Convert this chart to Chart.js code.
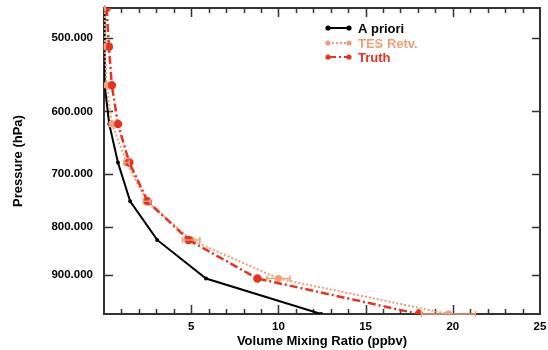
<!DOCTYPE html>
<html>
<head>
<meta charset="utf-8">
<script src="https://cdn.jsdelivr.net/npm/chart.js@4.4.0/dist/chart.umd.min.js"></script>
<style>
  html, body { margin: 0; padding: 0; background: #fff; }
  #wrap { width: 548px; height: 350px; }
</style>
</head>
<body>
<div id="wrap"><canvas id="chart"></canvas></div>
<script>
// pressure levels (hPa), top of plot to surface
const pressures = [464.2, 510.9, 562.3, 619.0, 681.3, 749.9, 825.4, 908.5, 992];
// volume mixing ratio (ppbv)
const aprioriVals = [0.02, 0.03, 0.05, 0.3, 0.8, 1.5, 3.05, 5.85, 12.45];
const tesVals = [0.05, 0.05, 0.15, 0.45, 1.3, 2.45, 5.0, 10.0, 19.75];
const tesErr = [0.02, 0.03, 0.05, 0.1, 0.15, 0.2, 0.5, 0.66, 1.55];
const truthVals = [0.15, 0.28, 0.45, 0.8, 1.45, 2.5, 4.85, 8.8, 18.05];
const pressureTicks = [500, 600, 700, 800, 900];
const seriesNames = ['A priori', 'TES Retv.', 'Truth'];

const BLACK = '#000000';
const ORANGE = '#f29e7a';
const RED = '#e8321e';
const FONT = "'Liberation Sans', Arial, sans-serif";

function toPoints(vals) {
    return vals.map((v, i) => ({ x: v, y: pressures[i] }));
}

// box and inward tick marks
const framePlugin = {
    id: 'frame',
    beforeDatasetsDraw(chart) {
        const { ctx, chartArea: a, scales } = chart;
        const xs = scales.x, ys = scales.y;
        ctx.save();
        ctx.strokeStyle = '#333';
        ctx.lineWidth = 2;
        ctx.strokeRect(a.left, a.top, a.right - a.left, a.bottom - a.top);
        ctx.lineWidth = 1.5;
        ctx.beginPath();
        for (let v = 1; v < 25; v++) {
            const px = Math.round(xs.getPixelForValue(v)) + 0.5;
            const len = v % 5 === 0 ? 9 : 5;
            ctx.moveTo(px, a.bottom); ctx.lineTo(px, a.bottom - len);
            ctx.moveTo(px, a.top); ctx.lineTo(px, a.top + len);
        }
        pressureTicks.forEach((p) => {
            const py = Math.round(ys.getPixelForValue(p)) + 0.5;
            ctx.moveTo(a.left, py); ctx.lineTo(a.left + 9, py);
            ctx.moveTo(a.right, py); ctx.lineTo(a.right - 8, py);
        });
        ctx.stroke();
        ctx.restore();
    },
};

// horizontal error bars on the retrieval
const errorBarPlugin = {
    id: 'errorBars',
    afterDatasetsDraw(chart) {
        const { ctx, scales } = chart;
        const xs = scales.x, ys = scales.y;
        ctx.save();
        ctx.strokeStyle = ORANGE;
        ctx.lineWidth = 1.5;
        ctx.beginPath();
        tesVals.forEach((v, i) => {
            const py = ys.getPixelForValue(pressures[i]);
            const x1 = xs.getPixelForValue(v - tesErr[i]);
            const x2 = xs.getPixelForValue(v + tesErr[i]);
            ctx.moveTo(x1, py); ctx.lineTo(x2, py);
            ctx.moveTo(x1, py - 3); ctx.lineTo(x1, py + 3);
            ctx.moveTo(x2, py - 3); ctx.lineTo(x2, py + 3);
        });
        ctx.stroke();
        ctx.restore();
    },
};

// legend: line sample with a dot on each end
const legendPlugin = {
    id: 'sampleLegend',
    afterDraw(chart) {
        const { ctx } = chart;
        const x0 = 328, x1 = 349, tx = 358;
        const rows = [28, 43, 57];
        ctx.save();
        ctx.font = "bold 13px " + FONT;
        ctx.textBaseline = 'middle';
        chart.data.datasets.forEach((ds, i) => {
            const y = rows[i];
            ctx.strokeStyle = ds.borderColor;
            ctx.fillStyle = ds.borderColor;
            ctx.lineWidth = 2;
            ctx.setLineDash(ds.borderDash || []);
            ctx.beginPath();
            ctx.moveTo(x0, y); ctx.lineTo(x1, y);
            ctx.stroke();
            ctx.setLineDash([]);
            [x0, x1].forEach((x) => {
                ctx.beginPath();
                ctx.arc(x, y, 2.6, 0, Math.PI * 2);
                ctx.fill();
            });
            ctx.fillText(ds.label, tx, y + 1);
        });
        ctx.restore();
    },
};

const ctx = document.getElementById('chart').getContext('2d');
new Chart(ctx, {
    type: 'line',
    data: {
        datasets: [
            {
                label: seriesNames[0],
                data: toPoints(aprioriVals),
                borderColor: BLACK,
                backgroundColor: BLACK,
                borderWidth: 2,
                pointRadius: 1,
                order: 3,
            },
            {
                label: seriesNames[1],
                data: toPoints(tesVals),
                borderColor: ORANGE,
                backgroundColor: ORANGE,
                borderWidth: 2,
                borderDash: [2, 2],
                pointRadius: 2.6,
                order: 2,
            },
            {
                label: seriesNames[2],
                data: toPoints(truthVals),
                borderColor: RED,
                backgroundColor: RED,
                borderWidth: 2.5,
                borderDash: [8, 3, 2, 3],
                pointRadius: 3,
                order: 1,
            },
        ],
    },
    options: {
        responsive: true,
        maintainAspectRatio: false,
        animation: false,
        layout: { padding: { top: 8, right: 8, left: 0, bottom: 0 } },
        elements: { line: { tension: 0 }, point: { borderWidth: 0 } },
        scales: {
            x: {
                type: 'linear',
                min: 0,
                max: 25,
                grid: { display: false, drawTicks: false },
                border: { display: false },
                ticks: {
                    stepSize: 5,
                    padding: 6,
                    maxRotation: 0,
                    color: '#000',
                    font: { family: FONT, size: 11.5, weight: 'bold' },
                    callback: (v) => (v === 0 ? '' : v),
                },
                title: {
                    display: true,
                    text: 'Volume Mixing Ratio (ppbv)',
                    color: '#000',
                    font: { family: FONT, size: 13, weight: 'bold' },
                    padding: { top: 0, bottom: 1 },
                },
                afterFit: (s) => { s.height = 36; s.paddingLeft = 0; s.paddingRight = 0; },
            },
            y: {
                type: 'logarithmic',
                reverse: true,
                min: 464.2,
                max: 992,
                grid: { display: false, drawTicks: false },
                border: { display: false },
                afterBuildTicks: (s) => { s.ticks = pressureTicks.map((v) => ({ value: v })); },
                ticks: {
                    padding: 11,
                    color: '#000',
                    font: { family: FONT, size: 11.5, weight: 'bold' },
                    callback: (v) => Number(v).toFixed(3),
                },
                title: {
                    display: true,
                    text: 'Pressure (hPa)',
                    color: '#000',
                    font: { family: FONT, size: 13, weight: 'bold' },
                    padding: { top: 11, bottom: 0 },
                },
                afterFit: (s) => { s.width = 104; s.paddingTop = 0; s.paddingBottom = 0; },
            },
        },
        plugins: {
            legend: { display: false },
            tooltip: { enabled: false },
        },
    },
    plugins: [framePlugin, errorBarPlugin, legendPlugin],
});
</script>
</body>
</html>
